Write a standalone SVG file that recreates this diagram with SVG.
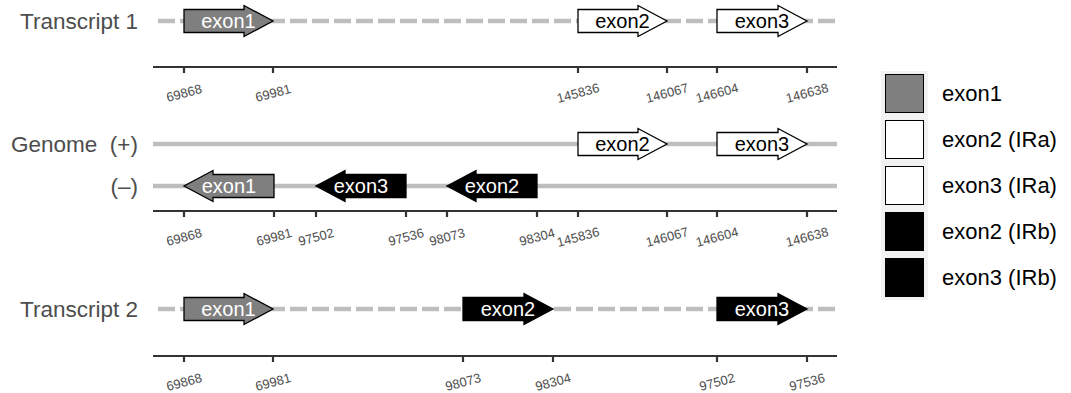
<svg xmlns="http://www.w3.org/2000/svg" width="1071" height="393" viewBox="0 0 1071 393">
<style>
.bg{fill:#ffffff}
.lab{font-family:"Liberation Sans",Arial,sans-serif;font-size:22.5px;fill:#4d4d4d}
.tick{font-family:"Liberation Sans",Arial,sans-serif;font-size:13px;fill:#4d4d4d;text-anchor:middle;dominant-baseline:central}
.dash{stroke:#bebebe;stroke-width:4.5;stroke-dasharray:17 5;stroke-dashoffset:17;fill:none}
.solid{stroke:#bebebe;stroke-width:4.5;fill:none}
.axis{stroke:#333333;stroke-width:2.2;fill:none}
.gray{fill:#7f7f7f;stroke:#000;stroke-width:1.3}
.white{fill:#ffffff;stroke:#000;stroke-width:1.3}
.black{fill:#000000;stroke:#000;stroke-width:1.3}
.et{font-family:"Liberation Sans",Arial,sans-serif;font-size:20px;text-anchor:middle}
.etw{fill:#ffffff}
.etb{fill:#000000}
.leg{font-family:"Liberation Sans",Arial,sans-serif;font-size:22px;fill:#000}
</style>
<rect class="bg" x="0" y="0" width="1071" height="393"/>

<g id="connectors">
  <line class="dash" x1="153" y1="21" x2="837" y2="21"/>
  <line class="solid" x1="153" y1="144" x2="837" y2="144"/>
  <line class="solid" x1="153" y1="186" x2="837" y2="186"/>
  <line class="dash" x1="153" y1="309" x2="837" y2="309"/>
</g>

<g id="row-labels">
  <text class="lab" x="138" y="29" text-anchor="end">Transcript 1</text>
  <text class="lab" x="138" y="152" text-anchor="end" xml:space="preserve">Genome  (+)</text>
  <text class="lab" x="138" y="194" text-anchor="end">(–)</text>
  <text class="lab" x="138" y="317" text-anchor="end">Transcript 2</text>
</g>

<g id="axis-t1">
  <path class="axis" d="M153,67H837M184,67v6M273,67v6M578,67v6M667,67v6M717,67v6M807,67v6"/>
  <text class="tick" transform="translate(184,93) rotate(-15)">69868</text>
  <text class="tick" transform="translate(273,93) rotate(-15)">69981</text>
  <text class="tick" transform="translate(578,93) rotate(-15)">145836</text>
  <text class="tick" transform="translate(667,93) rotate(-15)">146067</text>
  <text class="tick" transform="translate(717,93) rotate(-15)">146604</text>
  <text class="tick" transform="translate(807,93) rotate(-15)">146638</text>
</g>

<g id="axis-genome">
  <path class="axis" d="M153,211H837M184,211v6M274,211v6M316,211v6M406,211v6M447,211v6M537,211v6M578,211v6M667,211v6M717,211v6M807,211v6"/>
  <text class="tick" transform="translate(184,237) rotate(-15)">69868</text>
  <text class="tick" transform="translate(274,237) rotate(-15)">69981</text>
  <text class="tick" transform="translate(316,237) rotate(-15)">97502</text>
  <text class="tick" transform="translate(406,237) rotate(-15)">97536</text>
  <text class="tick" transform="translate(447,237) rotate(-15)">98073</text>
  <text class="tick" transform="translate(537,237) rotate(-15)">98304</text>
  <text class="tick" transform="translate(578,237) rotate(-15)">145836</text>
  <text class="tick" transform="translate(667,237) rotate(-15)">146067</text>
  <text class="tick" transform="translate(717,237) rotate(-15)">146604</text>
  <text class="tick" transform="translate(807,237) rotate(-15)">146638</text>
</g>

<g id="axis-t2">
  <path class="axis" d="M153,356H837M184,356v6M273,356v6M463,356v6M553,356v6M717,356v6M807,356v6"/>
  <text class="tick" transform="translate(184,382) rotate(-15)">69868</text>
  <text class="tick" transform="translate(273,382) rotate(-15)">69981</text>
  <text class="tick" transform="translate(463,382) rotate(-15)">98073</text>
  <text class="tick" transform="translate(553,382) rotate(-15)">98304</text>
  <text class="tick" transform="translate(717,382) rotate(-15)">97502</text>
  <text class="tick" transform="translate(807,382) rotate(-15)">97536</text>
</g>

<g id="t1-exon1">
  <path class="gray" d="M184,9.5H244V5.5L273,21L244,36.5V32.5H184Z"/>
  <text class="et etw" x="228.5" y="28">exon1</text>
</g>
<g id="t1-exon2">
  <path class="white" d="M578,9.5H638V5.5L667,21L638,36.5V32.5H578Z"/>
  <text class="et etb" x="622.5" y="28">exon2</text>
</g>
<g id="t1-exon3">
  <path class="white" d="M717,9.5H778V5.5L807,21L778,36.5V32.5H717Z"/>
  <text class="et etb" x="762" y="28">exon3</text>
</g>

<g id="gp-exon2">
  <path class="white" d="M578,132.5H638V128.5L667,144L638,159.5V155.5H578Z"/>
  <text class="et etb" x="622.5" y="151">exon2</text>
</g>
<g id="gp-exon3">
  <path class="white" d="M717,132.5H778V128.5L807,144L778,159.5V155.5H717Z"/>
  <text class="et etb" x="762" y="151">exon3</text>
</g>

<g id="gm-exon1">
  <path class="gray" d="M274,174.5H213V170.5L184,186L213,201.5V197.5H274Z"/>
  <text class="et etw" x="229" y="193">exon1</text>
</g>
<g id="gm-exon3">
  <path class="black" d="M406,174.5H345V170.5L316,186L345,201.5V197.5H406Z"/>
  <text class="et etw" x="361" y="193">exon3</text>
</g>
<g id="gm-exon2">
  <path class="black" d="M537,174.5H476V170.5L447,186L476,201.5V197.5H537Z"/>
  <text class="et etw" x="492" y="193">exon2</text>
</g>

<g id="t2-exon1">
  <path class="gray" d="M184,297.5H244V293.5L273,309L244,324.5V320.5H184Z"/>
  <text class="et etw" x="228.5" y="316">exon1</text>
</g>
<g id="t2-exon2">
  <path class="black" d="M463,297.5H524V293.5L553,309L524,324.5V320.5H463Z"/>
  <text class="et etw" x="508" y="316">exon2</text>
</g>
<g id="t2-exon3">
  <path class="black" d="M717,297.5H778V293.5L807,309L778,324.5V320.5H717Z"/>
  <text class="et etw" x="762" y="316">exon3</text>
</g>

<g id="legend">
  <rect x="881" y="71" width="47" height="229" fill="#f2f2f2"/>
  <rect x="885.5" y="74.5" width="38" height="38" fill="#7f7f7f" stroke="#000" stroke-width="1"/>
  <rect x="885.5" y="120.5" width="38" height="38" fill="#ffffff" stroke="#000" stroke-width="1"/>
  <rect x="885.5" y="166.5" width="38" height="38" fill="#ffffff" stroke="#000" stroke-width="1"/>
  <rect x="885.5" y="212.5" width="38" height="38" fill="#000000" stroke="#000" stroke-width="1"/>
  <rect x="885.5" y="258.5" width="38" height="38" fill="#000000" stroke="#000" stroke-width="1"/>
  <text class="leg" x="942" y="101">exon1</text>
  <text class="leg" x="942" y="147">exon2 (IRa)</text>
  <text class="leg" x="942" y="193">exon3 (IRa)</text>
  <text class="leg" x="942" y="239">exon2 (IRb)</text>
  <text class="leg" x="942" y="285">exon3 (IRb)</text>
</g>
</svg>
